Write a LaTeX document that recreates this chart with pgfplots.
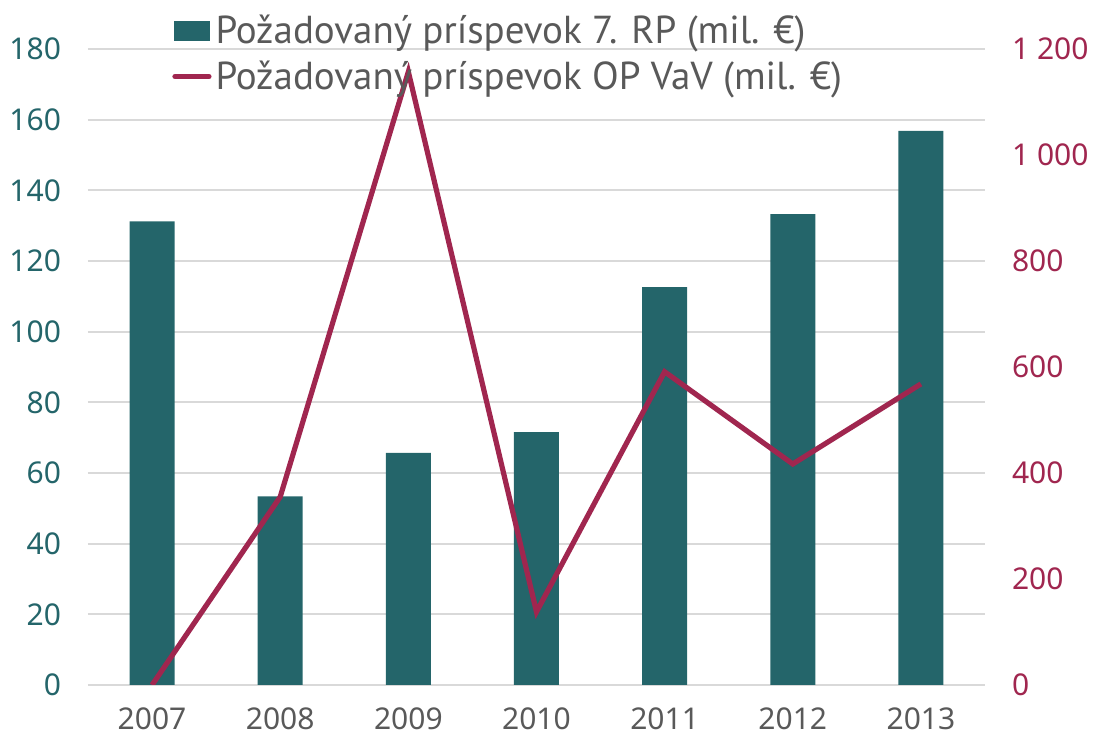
\documentclass[border=0pt]{standalone}
\usepackage{pgfplots}
\pgfplotsset{compat=1.18}
\usepackage{fontspec}
\setmainfont{Noto Sans}
\newfontfamily\legfont{PT Sans}
\definecolor{teal1}{HTML}{24656A}
\definecolor{crim}{HTML}{A0264F}
\definecolor{gridg}{HTML}{D9D9D9}
\definecolor{txtg}{HTML}{595959}
\begin{document}
\begin{tikzpicture}
\begin{axis}[
  at={(0pt,0pt)}, anchor=south west,
  scale only axis, width=448.5pt, height=318pt,
  xmin=-0.5, xmax=6.5, ymin=0, ymax=180,
  ytick={0,20,...,180},
  xtick={0,...,6},
  xticklabels={2007,2008,2009,2010,2011,2012,2013},
  axis y line*=left, axis x line*=bottom,
  y axis line style={draw=none},
  x axis line style={draw=gridg, line width=1pt},
  ymajorgrids, grid style={gridg, line width=1pt},
  major tick length=0pt,
  tick label style={font=\fontsize{15}{18}\selectfont},
  yticklabel style={text=teal1},
  xticklabel style={text=txtg},
  /pgf/number format/assume math mode=true,
  yticklabel style={xshift=-10pt},
  xticklabel style={yshift=-8pt},
]
\addplot[ybar, bar width=22.5pt, fill=teal1, draw=none] coordinates {
(0,131.2) (1,53.4) (2,65.7) (3,71.6) (4,112.6) (5,133.3) (6,156.8)};
\end{axis}
\begin{axis}[
  at={(0pt,0pt)}, anchor=south west,
  scale only axis, width=448.5pt, height=318pt,
  xmin=-0.5, xmax=6.5, ymin=0, ymax=1200,
  ytick={0,200,...,1200},
  axis y line*=right, axis x line=none,
  y axis line style={draw=none},
  major tick length=0pt,
  tick label style={font=\fontsize{15}{18}\selectfont},
  yticklabel style={text=crim, xshift=10pt},
  /pgf/number format/assume math mode=true,
  /pgf/number format/1000 sep={\ },
  legend style={at={(0.0936,1.060)}, anchor=north west, draw=none, fill=none,
    font=\legfont\fontsize{19.5}{22}\selectfont, text=txtg,
    row sep=3pt, inner sep=0pt,
    /tikz/every even column/.append style={column sep=0pt}},
  legend cell align=left,
]
\addlegendimage{area legend, fill=teal1, draw=none,
  legend image code/.code={\fill[teal1] (0pt,-4.8pt) rectangle (18pt,4.8pt);}}
\addlegendentry{Požadovaný príspevok 7. RP (mil. €)}
\addplot[crim, line width=2.6pt, line join=miter,
  legend image code/.code={\draw[crim, line width=2.6pt, line cap=round] (0.5pt,0pt) -- (17.5pt,0pt);}]
  coordinates {(0,0) (1,355) (2,1157) (3,138) (4,591) (5,417) (6,568)};
\addlegendentry{Požadovaný príspevok OP VaV (mil. €)}
\end{axis}
\pgfresetboundingbox
\path[use as bounding box] (-44pt,-27pt) rectangle (503pt,342.5pt);
\end{tikzpicture}
\end{document}
